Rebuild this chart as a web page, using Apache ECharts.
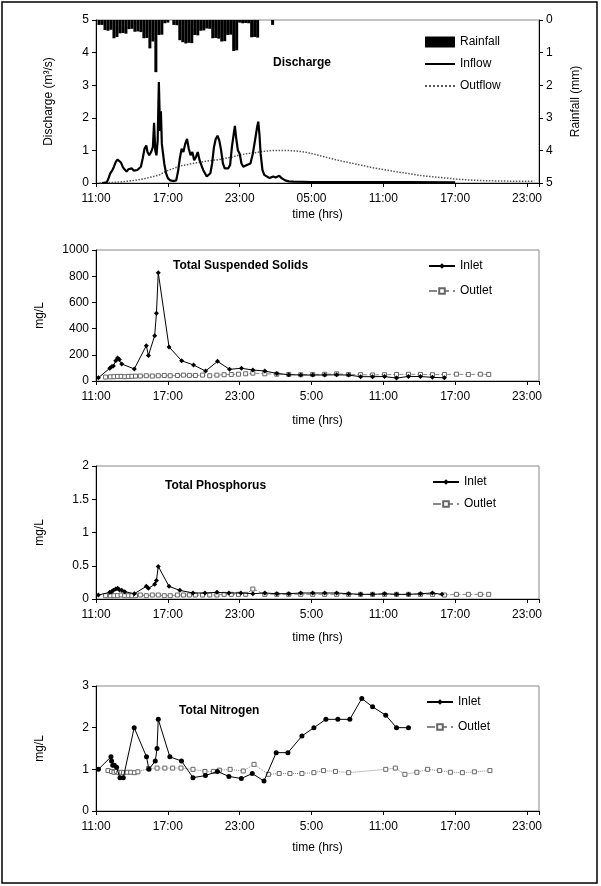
<!DOCTYPE html>
<html><head><meta charset="utf-8">
<script src="https://cdn.jsdelivr.net/npm/echarts@6/dist/echarts.min.js"></script>
<style>html,body{margin:0;padding:0;background:#fff}#c{width:601px;height:886px}</style>
</head><body><div id="c"></div>
<script>
// x values are hours elapsed since 11:00 on day 1
const tickLabels1 = ['11:00','17:00','23:00','05:00','11:00','17:00','23:00'];
const tickLabels = ['11:00','17:00','23:00','5:00','11:00','17:00','23:00'];

// Discharge panel
const rainH = [0.25,0.5,0.75,1.0,1.25,1.5,1.75,2.0,2.25,2.5,2.75,3.0,3.25,3.5,3.75,4.0,4.25,4.5,4.75,5.0,5.25,5.5,5.75,6.0,
  6.5,6.75,7.0,7.25,7.5,7.75,8.0,8.25,8.5,8.75,9.0,9.25,9.5,9.75,10.0,10.25,10.5,10.75,11.0,11.25,11.5,11.75,12.0,12.25,12.5,12.75,13.0,13.25,13.5,
  14.75];
const rainMm = [0.15,0.15,0.31,0.33,0.3,0.56,0.52,0.41,0.4,0.42,0.28,0.27,0.36,0.35,0.37,0.56,0.55,0.87,0.66,1.6,0.46,0.45,0.1,0.08,
  0.15,0.16,0.62,0.68,0.72,0.7,0.71,0.46,0.47,0.33,0.32,0.26,0.27,0.56,0.55,0.57,0.66,0.65,0.46,0.45,0.95,0.93,0.08,0.1,0.09,0.1,0.53,0.52,0.54,
  0.15];
const inflowH = [0.5,0.9,1.05,1.2,1.35,1.5,1.65,1.8,1.95,2.1, 2.25,2.4,2.55,2.7,2.85,3.0,3.15,3.3,3.45,3.6,
  3.75,3.9,4.05,4.2,4.3,4.45,4.6,4.75,4.85,4.95, 5.05,5.15,5.25,5.35,5.42,5.5,5.6,5.7,5.85,6.0,
  6.2,6.5,6.7,6.85,7.0,7.15,7.3,7.45,7.6,7.75, 7.9,8.05,8.2,8.35,8.5,8.65,8.8,8.95,9.1,9.25,
  9.4,9.55,9.7,9.85,10.0,10.15,10.3,10.45,10.6,10.75, 10.9,11.05,11.2,11.35,11.5,11.6,11.7,11.85,12.0,12.15,
  12.3,12.45,12.6,12.75,12.9,13.1,13.3,13.45,13.55,13.65, 13.75,13.9,14.05,14.2,14.5,14.8,15.0,15.3,15.5,15.8,
  16.1,16.5,18,22,26,30];
const inflowQ = [0,0.02,0.15,0.3,0.38,0.5,0.65,0.72,0.73,0.62, 0.48,0.42,0.35,0.42,0.36,0.45,0.38,0.43,0.4,0.46,
  0.5,0.75,1.05,1.15,0.95,0.85,0.95,1.1,1.85,1.0, 0.85,1.3,3.1,1.6,2.2,1.2,0.9,0.6,0.3,0.15,
  0.08,0.06,0.08,0.35,0.75,1.05,0.95,1.2,1.35,1.05, 0.85,0.95,0.7,0.8,0.95,0.7,0.55,0.4,0.3,0.2,
  0.15,0.3,0.6,1.1,1.35,1.45,1.3,1.0,0.6,0.45, 0.5,0.45,0.55,1.1,1.5,1.75,1.4,1.0,0.9,0.6,
  0.5,0.45,0.55,0.5,0.6,0.9,1.35,1.7,1.88,1.5, 0.9,0.4,0.25,0.2,0.15,0.2,0.17,0.22,0.15,0.08,
  0.05,0.04,0.03,0.03,0.03,0.02];
const outflowH = [0.3,1,2,3,4,4.8,5.3,5.9,6.5,7,7.7,8.4,9.2,10.3,11.4,12,12.6,13.3,14,14.8,15.6,16.5,17.2,17.8,18.5,19.2,20.3,21.7,23.1,24.5,25.9,27.3,28.7,30.1,31.2,32.5,34,35.5,36.6];
const outflowQ = [0,0.01,0.03,0.07,0.13,0.2,0.25,0.37,0.45,0.52,0.57,0.62,0.67,0.72,0.8,0.86,0.9,0.93,0.97,1.0,1.0,0.99,0.96,0.92,0.86,0.79,0.69,0.58,0.47,0.38,0.3,0.22,0.17,0.12,0.09,0.07,0.06,0.05,0.05];

// Total Suspended Solids (mg/L)
const tssInH = [0.2,1.15,1.3,1.45,1.65,1.8,1.95,2.15,3.2,4.2,4.38,4.9,5.05,5.2,6.1,7.15,8.15,9.15,10.15,11.15,12.15,13.1,14.1,15.1,16.1,17.1,18.1,19.1,20.1,21.1,22.1,23.1,24.1,25.1,26.1,27.1,28.1,29.1];
const tssIn = [25,97,109,114,155,175,165,130,92,270,195,346,517,827,260,155,122,76,150,89,97,84,76,58,48,46,45,46,47,45,33,33,34,22,35,34,28,24];
const tssOutH = [0.8,1.2,1.5,1.8,2.1,2.4,2.7,3.0,3.3,3.7, 4.2,4.7,5.2,5.7,6.2,6.8,7.3,7.8,8.3,8.9, 9.5,10.1,10.7,11.3,11.9,12.5,13.1,14.1,15.1,16.1, 17.1,18.1,19.1,20.1,21.1,22.1,23.1,24.1,25.1,26.1, 27.1,28.1,29.1,30.1,31.1,32.1,32.8];
const tssOut = [30,32,33,35,35,33,35,36,37,38, 40,38,40,42,40,42,45,43,42,45, 40,45,48,50,52,55,60,55,52,50, 48,50,52,55,50,48,46,48,50,52, 50,48,50,52,50,52,50];

// Total Phosphorus (mg/L)
const tpInH = [0.2,1.15,1.3,1.45,1.65,1.8,1.95,2.15,2.4,3.2,4.2,4.38,4.9,5.05,5.2,6.1,7.0,8.1,9.1,10.1,11.1,12.1,13.1,14.1,15.1,16.1,17.1,18.1,19.1,20.1,21.1,22.1,23.1,24.1,25.1,26.1,27.1,28.1,28.9];
const tpIn = [0.06,0.1,0.11,0.13,0.15,0.16,0.14,0.13,0.11,0.08,0.19,0.16,0.22,0.28,0.49,0.19,0.13,0.09,0.09,0.1,0.09,0.09,0.08,0.09,0.08,0.08,0.09,0.09,0.09,0.09,0.08,0.07,0.07,0.08,0.07,0.07,0.08,0.09,0.07];
const tpOutH = [0.8,1.2,1.5,1.8,2.1,2.4,2.7,3.0,3.3,3.7, 4.2,4.7,5.2,5.7,6.2,6.8,7.3,7.8,8.3,8.9, 9.5,10.1,10.7,11.3,11.9,12.5,13.1,14.1,15.1,16.1, 17.1,18.1,19.1,20.1,21.1,22.1,23.1,24.1,25.1,26.1, 27.1,28.1,29.1,30.1,31.1,32.1,32.8];
const tpOut = [0.05,0.05,0.05,0.05,0.06,0.05,0.05,0.05,0.05,0.06, 0.05,0.06,0.06,0.05,0.05,0.06,0.06,0.06,0.06,0.06, 0.06,0.06,0.07,0.07,0.07,0.07,0.15,0.07,0.07,0.07, 0.07,0.07,0.07,0.07,0.07,0.07,0.07,0.07,0.07,0.07, 0.07,0.07,0.06,0.07,0.07,0.07,0.07];

// Total Nitrogen (mg/L)
const tnInH = [0.2,1.25,1.3,1.4,1.53,1.72,2.0,2.28,3.19,4.22,4.42,4.95,5.1,5.2,6.17,7.14,8.1,9.14,10.14,11.1,12.14,13.05,14.03,15.05,16.03,17.2,18.2,19.2,20.2,21.2,22.2,23.1,24.2,25.1,26.1];
const tnIn = [1.0,1.3,1.2,1.1,1.1,1.05,0.8,0.8,2.0,1.3,1.0,1.2,1.5,2.2,1.3,1.2,0.8,0.85,0.95,0.83,0.78,0.9,0.72,1.4,1.4,1.8,2.0,2.2,2.2,2.2,2.7,2.5,2.3,2.0,2.0];
const tnOutH = [1.0,1.3,1.5,1.7,1.9,2.1,2.3,2.6,2.9,3.2, 3.5,4.4,5.1,5.75,6.4,7.1,8.1,9.1,9.8,10.3, 11.2,12.3,13.2,14.4,15.3,16.2,17.2,18.2,19.0,20.0, 21.1,24.2,25.0,25.8,26.8,27.7,28.7,29.6,30.6,31.6, 32.9];
const tnOut = [0.97,0.95,0.93,0.95,0.92,0.93,0.92,0.93,0.93,0.92, 0.94,1.02,1.03,1.03,1.03,1.03,1.0,0.95,0.95,0.98, 1.0,0.96,1.12,0.88,0.9,0.9,0.9,0.92,0.97,0.95, 0.92,1.0,1.03,0.88,0.93,1.0,0.97,0.93,0.92,0.94, 0.97];

const zip = (a, b) => a.map((v, i) => [v, b[i]]);
const FONT = '"Liberation Sans", Arial, sans-serif';
const txt = {color:'#000', fontSize:12, fontFamily:FONT};

function xAx(i, labels, gap) {
  return {gridIndex:i, type:'value', min:0, max:37, interval:6,
    axisLine:{lineStyle:{color:'#000', width:1}},
    axisTick:{length:4, lineStyle:{color:'#000'}},
    splitLine:{show:false},
    axisLabel:Object.assign({margin:10, formatter:v => { const k = v/6; return (Number.isInteger(k) && labels[k] !== undefined) ? labels[k] : ''; }}, txt),
    name:'time (hrs)', nameLocation:'middle', nameGap:gap, nameTextStyle:txt};
}
function yAx(i, min, max, interval, name, gap, extra) {
  return Object.assign({gridIndex:i, type:'value', min, max, interval,
    axisLine:{show:true, lineStyle:{color:'#000', width:1}},
    axisTick:{show:true, length:4, lineStyle:{color:'#000'}},
    splitLine:{show:false},
    axisLabel:Object.assign({margin:7, formatter:v => String(v)}, txt),
    name, nameLocation:'middle', nameGap:gap, nameTextStyle:txt}, extra || {});
}
const gridBase = {left:96, right:62, show:true, borderColor:'#888', borderWidth:1};
const inletStyle = (xi, yi, data, sym) => ({name:'Inlet', type:'line', xAxisIndex:xi, yAxisIndex:yi, data,
  symbol:sym, symbolSize:5, itemStyle:{color:'#000'}, lineStyle:{color:'#000', width:1}, z:4, animation:false});
const outletStyle = (xi, yi, data, dash) => ({name:'Outlet', type:'line', xAxisIndex:xi, yAxisIndex:yi, data,
  symbol:'rect', symbolSize:4, itemStyle:{color:'#fff', borderColor:'#666', borderWidth:1},
  lineStyle:{color:'#888', width:1, type:dash}, z:3, animation:false});
const legendBase = {orient:'vertical', selectedMode:false, itemWidth:26, itemHeight:7, textStyle:txt, padding:0};
const noSym = {opacity:0};

const option = {
  backgroundColor:'#fff',
  animation:false,
  grid:[
    Object.assign({top:20, height:163}, gridBase),
    Object.assign({top:250, height:131}, gridBase),
    Object.assign({top:466, height:133}, gridBase),
    Object.assign({top:686, height:125}, gridBase)
  ],
  xAxis:[xAx(0, tickLabels1, 26), xAx(1, tickLabels, 34), xAx(2, tickLabels, 33), xAx(3, tickLabels, 31)],
  yAxis:[
    yAx(0, 0, 5, 1, 'Discharge (m³/s)', 41),
    yAx(0, 0, 5, 1, 'Rainfall (mm)', 31, {position:'right', inverse:true}),
    yAx(1, 0, 1000, 200, 'mg/L', 50),
    yAx(2, 0, 2, 0.5, 'mg/L', 50),
    yAx(3, 0, 3, 1, 'mg/L', 50)
  ],
  title:[
    {text:'Discharge', left:273, top:57, padding:0, textStyle:Object.assign({}, txt, {fontWeight:'bold'})},
    {text:'Total Suspended Solids', left:173, top:260, padding:0, textStyle:Object.assign({}, txt, {fontWeight:'bold'})},
    {text:'Total Phosphorus', left:165, top:480, padding:0, textStyle:Object.assign({}, txt, {fontWeight:'bold'})},
    {text:'Total Nitrogen', left:179, top:705, padding:0, textStyle:Object.assign({}, txt, {fontWeight:'bold'})}
  ],
  legend:[
    Object.assign({}, legendBase, {left:424, top:36, itemGap:10, itemWidth:30, itemHeight:11,
      data:[{name:'Rainfall', icon:'rect'}, {name:'Inflow', itemStyle:noSym}, {name:'Outflow', itemStyle:noSym}]}),
    Object.assign({}, legendBase, {left:428, top:260, itemGap:13, data:['Inlet','Outlet']}),
    Object.assign({}, legendBase, {left:432, top:476, itemGap:10, data:['Inlet','Outlet']}),
    Object.assign({}, legendBase, {left:426, top:696, itemGap:13, data:['Inlet','Outlet']})
  ],
  series:[
    {name:'Rainfall', type:'bar', xAxisIndex:0, yAxisIndex:1, data:zip(rainH, rainMm), barWidth:3,
      itemStyle:{color:'#000'}, animation:false},
    {name:'Inflow', type:'line', xAxisIndex:0, yAxisIndex:0, data:zip(inflowH, inflowQ), symbol:'none',
      itemStyle:{color:'rgba(0,0,0,0)'}, lineStyle:{color:'#000', width:2.2}, z:4},
    {name:'Outflow', type:'line', xAxisIndex:0, yAxisIndex:0, data:zip(outflowH, outflowQ), symbol:'none',
      itemStyle:{color:'rgba(0,0,0,0)'}, lineStyle:{color:'#555', width:1.5, type:'dotted'}, z:3},
    outletStyle(1, 2, zip(tssOutH, tssOut), 'dashed'),
    inletStyle(1, 2, zip(tssInH, tssIn), 'diamond'),
    outletStyle(2, 3, zip(tpOutH, tpOut), 'dashed'),
    inletStyle(2, 3, zip(tpInH, tpIn), 'diamond'),
    outletStyle(3, 4, zip(tnOutH, tnOut), 'dotted'),
    inletStyle(3, 4, zip(tnInH, tnIn), 'circle')
  ],
  graphic:[{type:'rect', shape:{x:2, y:2, width:595, height:881}, style:{fill:null, stroke:'#000', lineWidth:1.5}, silent:true}]
};
const chart = echarts.init(document.getElementById('c'), null, {renderer:'canvas'});
chart.setOption(option);
</script></body></html>
